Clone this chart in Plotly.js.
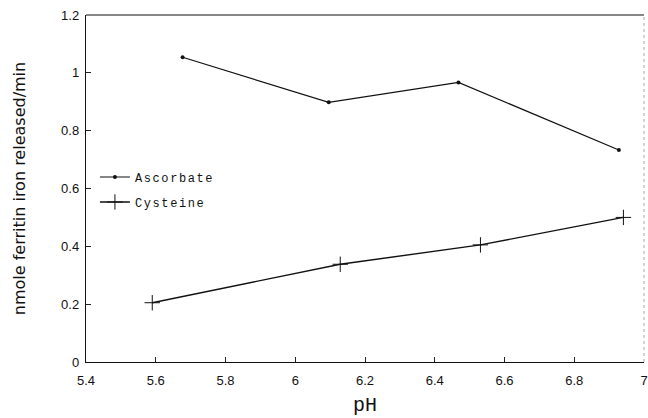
<!DOCTYPE html>
<html>
<head>
<meta charset="utf-8">
<script src="https://cdn.plot.ly/plotly-3.0.1.min.js"></script>
<style>
html,body{margin:0;padding:0;background:#fff;}
#chart{width:648px;height:418px;}
.legendtext{letter-spacing:1.6px;}
</style>
</head>
<body>
<div id="chart"></div>
<script>
// Data
const ascorbatePH = [5.677, 6.096, 6.468, 6.928];
const ascorbateRate = [1.054, 0.898, 0.967, 0.733];
const cysteinePH = [5.59, 6.129, 6.531, 6.941];
const cysteineRate = [0.205, 0.338, 0.405, 0.500];
const xTicks = [5.4, 5.6, 5.8, 6, 6.2, 6.4, 6.6, 6.8, 7];
const yTicks = [0, 0.2, 0.4, 0.6, 0.8, 1, 1.2];
const seriesNames = ["Ascorbate", "Cysteine"];

const traces = [
  {
    x: ascorbatePH, y: ascorbateRate, name: seriesNames[0], legendgroup: "a",
    type: "scatter", mode: "lines+markers",
    line: {color: "#111", width: 1.2},
    marker: {symbol: "circle", size: 4, color: "#111"}
  },
  {
    x: cysteinePH, y: cysteineRate, name: seriesNames[1], legendgroup: "c",
    type: "scatter", mode: "lines+markers",
    line: {color: "#111", width: 1.4},
    marker: {symbol: "cross-thin", size: 11, line: {color: "#111", width: 1}}
  }
];

const layout = {
  width: 648, height: 418,
  margin: {l: 86, r: 4, t: 15, b: 56},
  paper_bgcolor: "#fff", plot_bgcolor: "#fff",
  showlegend: true,
  legend: {
    x: 0.016, y: 0.575, xanchor: "left", yanchor: "top",
    bgcolor: "rgba(0,0,0,0)", borderwidth: 0,
    itemwidth: 30, tracegroupgap: 6, traceorder: "grouped",
    font: {family: "Liberation Mono, monospace", size: 12, color: "#111"}
  },
  xaxis: {
    range: [5.4, 7], tickvals: xTicks, ticktext: xTicks.map(String),
    ticks: "inside", ticklen: 5, tickcolor: "#222", tickwidth: 1,
    ticklabelstandoff: 6, ticklabeloverflow: "allow",
    showline: true, linecolor: "#111", linewidth: 1.2, mirror: false,
    showgrid: false, zeroline: false,
    tickfont: {family: "Liberation Sans, Arial, sans-serif", size: 13, color: "#111"},
    title: {text: "pH", font: {family: "Liberation Mono, monospace", size: 20, color: "#111"}, standoff: 10}
  },
  yaxis: {
    range: [0, 1.2], tickvals: yTicks, ticktext: yTicks.map(String),
    ticks: "inside", ticklen: 5, tickcolor: "#222", tickwidth: 1,
    ticklabelstandoff: 3,
    showline: true, linecolor: "#111", linewidth: 1.2,
    showgrid: false, zeroline: false,
    tickfont: {family: "Liberation Sans, Arial, sans-serif", size: 13, color: "#111"},
    title: {text: "nmole ferritin iron released/min", font: {family: "DejaVu Sans, sans-serif", size: 16, color: "#111"}, standoff: 31}
  },
  shapes: [
    {type: "line", xref: "paper", yref: "paper", x0: 0, x1: 1, y0: 1, y1: 1, line: {color: "#111", width: 1.2}},
    {type: "line", xref: "paper", yref: "paper", x0: 1, x1: 1, y0: 0, y1: 1, line: {color: "#aaa", width: 1, dash: "dot"}}
  ]
};

Plotly.newPlot("chart", traces, layout, {displayModeBar: false, staticPlot: true});
</script>
</body>
</html>
